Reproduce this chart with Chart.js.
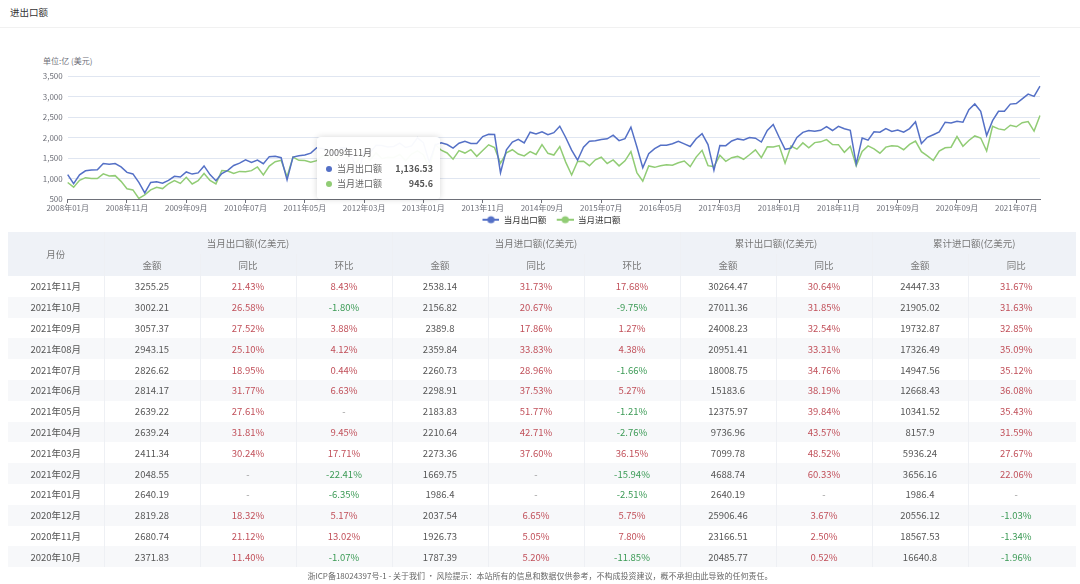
<!DOCTYPE html>
<html>
<head>
<meta charset="utf-8">
<script src="https://cdn.jsdelivr.net/npm/chart.js@4.4.0/dist/chart.umd.min.js"></script>
<style>
  html, body { margin: 0; padding: 0; background: #fff; }
  body {
    width: 1080px; height: 584px; position: relative; overflow: hidden;
    font-family: "Noto Sans CJK SC", "Noto Sans", sans-serif;
  }
  #title { position: absolute; left: 10px; top: 5px; font-size: 9.5px; color: #333; }
  #titleLine { position: absolute; left: 0; right: 0; top: 27px; height: 1px; background: #f1f1f1; }
  #yName { position: absolute; left: 43px; top: 55px; font-size: 8px; color: #6e7079; }
  #chartWrap { position: absolute; left: 0; top: 40px; width: 1080px; height: 194px; }
  #tip {
    position: absolute; left: 317px; top: 137px; width: 123px; height: 62px;
    background: rgba(255,255,255,0.96); border-radius: 4px;
    box-shadow: 0 0 6px rgba(0,0,0,0.16); box-sizing: border-box;
    padding: 9px 7px 0 7px; font-size: 9px; color: #666; display: none;
  }
  #tip .t { line-height: 14px; margin-bottom: 1px; }
  #tip .r { display: flex; align-items: center; line-height: 15px; }
  #tip .dot { width: 6px; height: 6px; border-radius: 50%; margin: 0 5px 0 2px; }
  #tip .v { margin-left: auto; font-weight: bold; color: #555; }

  table {
    position: absolute; left: 8px; top: 232px; width: 1068px;
    border-collapse: collapse; table-layout: fixed; font-size: 9.5px; color: #555;
  }
  th, td { text-align: center; padding: 0; border-right: 1px solid #eef0f4; }
  th:last-child, td:last-child { border-right: none; }
  thead th { background: #eff2f7; font-weight: normal; color: #777; height: 22px; }
  tbody td { height: 20.8px; }
  tbody tr:nth-child(even) td { background: #f7f8fa; }
  .up { color: #c1505a; }
  .down { color: #3b9a55; }
  .na { color: #999; }
  #footer {
    position: absolute; left: 0; width: 1080px; top: 570px; text-align: center;
    font-size: 8px; color: #666;
  }
</style>
</head>
<body>
<div id="title">进出口额</div>
<div id="titleLine"></div>
<div id="yName">单位:亿 (美元)</div>
<div id="chartWrap"><canvas id="chartTrade"></canvas></div>
<div id="tip"></div>
<table id="tbl"></table>
<div id="footer">浙ICP备18024397号-1 - 关于我们 · 风险提示：本站所有的信息和数据仅供参考，不构成投资建议，概不承担由此导致的任何责任。</div>

<script>
/* ── chart data ─────────────────────────────────────────────── */

const firstYear = 2008;
const lastYear  = 2021;
const lastMonth = 11;
const missingMonths = ['2020年01月', '2020年02月'];   // published combined, not in series

const seriesNames  = ['当月出口额', '当月进口额'];
const seriesColors = ['#5470c6', '#91cc75'];

// 当月出口额 (亿美元), one line per year
const exportValues = [
  1096.4, 873.7, 1089.6, 1187.1, 1204.9, 1211.0, 1366.7, 1348.8, 1364.3, 1283.3, 1149.9, 1111.6,
  904.5, 648.9, 902.9, 919.4, 887.6, 954.1, 1054.2, 1037.0, 1159.9, 1107.6, 1136.53, 1307.2,
  1094.7, 945.2, 1121.1, 1199.2, 1318.1, 1374.0, 1454.8, 1392.8, 1449.9, 1359.8, 1533.4, 1541.5,
  1507.3, 967.2, 1522.0, 1557.0, 1571.6, 1619.8, 1751.3, 1733.2, 1696.7, 1574.9, 1744.7, 1747.2,
  1499.4, 1144.7, 1656.6, 1633.0, 1812.1, 1802.0, 1769.4, 1780.0, 1863.5, 1755.6, 1793.8, 1991.4,
  1873.7, 1393.6, 1821.9, 1870.6, 1827.7, 1743.2, 1859.9, 1906.1, 1856.4, 1853.4, 2022.1, 2077.4,
  2071.3, 1140.9, 1701.1, 1887.0, 1954.7, 1867.9, 2129.8, 2084.6, 2136.9, 2068.7, 2116.6, 2275.0,
  2000.0, 1691.9, 1446.0, 1763.0, 1907.5, 1922.2, 1950.0, 1968.9, 2056.1, 1924.1, 1971.6, 2252.3,
  1774.8, 1260.5, 1605.0, 1728.5, 1811.0, 1813.9, 1847.3, 1906.0, 1845.1, 1780.0, 1968.4, 2094.2,
  1827.6, 1200.0, 1804.0, 1800.6, 1915.8, 1965.9, 1937.7, 1999.3, 1982.6, 1889.4, 2174.0, 2318.6,
  2004.9, 1712.0, 1741.0, 2003.0, 2126.0, 2168.0, 2155.0, 2175.0, 2266.0, 2171.0, 2273.0, 2212.0,
  2175.7, 1352.1, 1986.7, 1934.9, 2138.0, 2128.0, 2215.0, 2148.0, 2182.0, 2129.0, 2217.0, 2384.0,
  1852.0, 2004.0, 2068.0, 2135.0, 2373.0, 2353.0, 2394.0, 2371.83, 2680.74, 2819.28,
  2640.19, 2048.55, 2411.34, 2639.24, 2639.22, 2814.17, 2826.62, 2943.15, 3057.37, 3002.21, 3255.25,
];

// 当月进口额 (亿美元)
const importValues = [
  901.8, 788.7, 955.7, 1020.2, 1002.2, 997.5, 1114.7, 1060.0, 1070.0, 930.0, 749.9, 721.8,
  513.4, 600.5, 721.2, 786.3, 754.0, 871.3, 948.2, 880.3, 1030.6, 867.3, 945.6, 1123.4,
  953.9, 869.8, 1193.8, 1182.5, 1122.4, 1173.4, 1167.0, 1192.3, 1281.2, 1088.7, 1303.8, 1410.7,
  1442.7, 1040.5, 1521.0, 1443.0, 1440.5, 1397.0, 1436.6, 1553.0, 1551.7, 1404.4, 1599.7, 1582.0,
  1227.0, 1458.0, 1603.3, 1448.0, 1625.0, 1485.0, 1517.0, 1513.0, 1586.0, 1435.0, 1597.0, 1675.7,
  1582.0, 1240.5, 1830.8, 1689.3, 1623.2, 1471.9, 1681.2, 1620.4, 1704.3, 1541.4, 1683.9, 1821.4,
  1753.4, 1370.0, 1624.0, 1702.0, 1595.3, 1551.8, 1656.4, 1586.3, 1827.8, 1614.0, 1571.9, 1778.8,
  1400.0, 1085.6, 1416.0, 1421.0, 1313.2, 1457.1, 1519.0, 1365.9, 1453.0, 1307.5, 1430.7, 1657.0,
  1145.0, 934.0, 1307.0, 1272.0, 1313.0, 1333.0, 1324.0, 1383.0, 1425.0, 1290.0, 1522.0, 1687.0,
  1314.0, 1291.0, 1565.0, 1418.0, 1507.0, 1539.0, 1469.0, 1580.0, 1698.0, 1509.0, 1772.0, 1771.0,
  1803.0, 1375.0, 1791.0, 1715.0, 1869.0, 1751.0, 1875.0, 1894.0, 1950.0, 1830.0, 1826.0, 1640.0,
  1784.0, 1311.0, 1661.0, 1796.0, 1722.0, 1618.0, 1765.0, 1800.0, 1788.0, 1701.0, 1830.0, 1912.0,
  1653.0, 1550.0, 1439.0, 1671.0, 1750.0, 1764.0, 2024.0, 1787.39, 1926.73, 2037.54,
  1986.4, 1669.75, 2273.36, 2210.64, 2183.83, 2298.91, 2260.73, 2359.84, 2389.8, 2156.82, 2538.14,
];

const yTicks = [500, 1000, 1500, 2000, 2500, 3000, 3500];
const labelEvery = 10;
const tooltipMonth = '2009年11月';

/* ── table data ─────────────────────────────────────────────── */

const tableMonths = ['2021年11月', '2021年10月', '2021年09月', '2021年08月', '2021年07月', '2021年06月', '2021年05月',
  '2021年04月', '2021年03月', '2021年02月', '2021年01月', '2020年12月', '2020年11月', '2020年10月'];
const expAmount = ['3255.25', '3002.21', '3057.37', '2943.15', '2826.62', '2814.17', '2639.22',
  '2639.24', '2411.34', '2048.55', '2640.19', '2819.28', '2680.74', '2371.83'];
const expYoy = ['21.43%', '26.58%', '27.52%', '25.10%', '18.95%', '31.77%', '27.61%',
  '31.81%', '30.24%', '-', '-', '18.32%', '21.12%', '11.40%'];
const expMom = ['8.43%', '-1.80%', '3.88%', '4.12%', '0.44%', '6.63%', '-',
  '9.45%', '17.71%', '-22.41%', '-6.35%', '5.17%', '13.02%', '-1.07%'];
const impAmount = ['2538.14', '2156.82', '2389.8', '2359.84', '2260.73', '2298.91', '2183.83',
  '2210.64', '2273.36', '1669.75', '1986.4', '2037.54', '1926.73', '1787.39'];
const impYoy = ['31.73%', '20.67%', '17.86%', '33.83%', '28.96%', '37.53%', '51.77%',
  '42.71%', '37.60%', '-', '-', '6.65%', '5.05%', '5.20%'];
const impMom = ['17.68%', '-9.75%', '1.27%', '4.38%', '-1.66%', '5.27%', '-1.21%',
  '-2.76%', '36.15%', '-15.94%', '-2.51%', '5.75%', '7.80%', '-11.85%'];
const cumExpAmount = ['30264.47', '27011.36', '24008.23', '20951.41', '18008.75', '15183.6', '12375.97',
  '9736.96', '7099.78', '4688.74', '2640.19', '25906.46', '23166.51', '20485.77'];
const cumExpYoy = ['30.64%', '31.85%', '32.54%', '33.31%', '34.76%', '38.19%', '39.84%',
  '43.57%', '48.52%', '60.33%', '-', '3.67%', '2.50%', '0.52%'];
const cumImpAmount = ['24447.33', '21905.02', '19732.87', '17326.49', '14947.56', '12668.43', '10341.52',
  '8157.9', '5936.24', '3656.16', '1986.4', '20556.12', '18567.53', '16640.8'];
const cumImpYoy = ['31.67%', '31.63%', '32.85%', '35.09%', '35.12%', '36.08%', '35.43%',
  '31.59%', '27.67%', '22.06%', '-', '-1.03%', '-1.34%', '-1.96%'];

/* ── month categories ───────────────────────────────────────── */

const monthLabels = [];
for (let y = firstYear; y <= lastYear; y++) {
  for (let m = 1; m <= 12; m++) {
    if (y === lastYear && m > lastMonth) break;
    const lbl = y + '年' + String(m).padStart(2, '0') + '月';
    if (!missingMonths.includes(lbl)) monthLabels.push(lbl);
  }
}

/* ── legend icons (line + dot, echarts style) ───────────────── */
// 7px of transparent space on the left doubles as the gap between legend items

const ICON_W = 24;
function legendIcon(color) {
  const c = document.createElement('canvas');
  c.width = ICON_W; c.height = 10;
  const g = c.getContext('2d');
  g.strokeStyle = color; g.lineWidth = 2;
  g.beginPath(); g.moveTo(7, 5); g.lineTo(24, 5); g.stroke();
  g.fillStyle = color;
  g.beginPath(); g.arc(15.5, 5, 3.6, 0, Math.PI * 2); g.fill();
  return c;
}
const icons = seriesColors.map(legendIcon);

/* ── tooltip (html, fed by chart.js) ────────────────────────── */

const fmtNum = v => v.toLocaleString('en-US', { maximumFractionDigits: 2 });

function externalTip({ tooltip }) {
  const el = document.getElementById('tip');
  if (tooltip.opacity === 0) { el.style.display = 'none'; return; }
  let html = '<div class="t">' + tooltip.title[0] + '</div>';
  tooltip.dataPoints.forEach(dp => {
    html += '<div class="r"><span class="dot" style="background:' + dp.dataset.borderColor + '"></span>'
          + '<span>' + dp.dataset.label + '</span><span class="v">' + fmtNum(dp.raw) + '</span></div>';
  });
  el.innerHTML = html;
  el.style.display = 'block';
}

/* ── chart ──────────────────────────────────────────────────── */

const AXIS_GRAY = '#6e7079';
const FONT = '"Noto Sans CJK SC", "Noto Sans", sans-serif';

const chart = new Chart(document.getElementById('chartTrade'), {
  type: 'line',
  data: {
    labels: monthLabels,
    datasets: [exportValues, importValues].map((vals, i) => ({
      label:           seriesNames[i],
      data:            vals,
      borderColor:     seriesColors[i],
      backgroundColor: seriesColors[i],
      borderWidth:     1.5,
      pointRadius:     0,
      pointHoverRadius: 0,
      tension:         0,
      fill:            false,
    })),
  },
  options: {
    responsive: true,
    maintainAspectRatio: false,
    animation: false,
    events: [],
    layout: { padding: { top: 36, right: 0, left: 16, bottom: 0 } },
    interaction: { mode: 'index', intersect: false },
    plugins: {
      legend: {
        position: 'bottom',
        labels: {
          color: '#333',
          font: { family: FONT, size: 8.5 },
          usePointStyle: true,
          pointStyleWidth: ICON_W,
          boxHeight: 8,
          padding: 3.5,
          generateLabels: ch => Chart.defaults.plugins.legend.labels.generateLabels(ch)
            .map((it, i) => ({ ...it, pointStyle: icons[i] })),
        },
      },
      tooltip: { enabled: false, external: externalTip },
    },
    scales: {
      x: {
        offset: false,
        afterFit: s => { s.height = 13; },
        border: { color: AXIS_GRAY },
        grid: { drawOnChartArea: false, drawTicks: true, tickLength: 4, color: AXIS_GRAY },
        ticks: {
          autoSkip: false, maxRotation: 0, padding: 0,
          color: AXIS_GRAY, font: { family: FONT, size: 8 },
          callback(v, i) { return i % labelEvery === 0 ? this.getLabelForValue(v) : null; },
        },
      },
      y: {
        min: yTicks[0],
        max: yTicks[yTicks.length - 1],
        afterFit: s => { s.width = 51.7; },
        afterBuildTicks: s => { s.ticks = yTicks.map(v => ({ value: v })); },
        border: { display: false },
        grid: { color: '#e0e6f1', drawTicks: false },
        ticks: {
          padding: 5,
          color: AXIS_GRAY, font: { family: FONT, size: 8 },
          callback: v => v.toLocaleString('en-US'),
        },
      },
      // empty right gutter so the plot stops at the last month
      gutter: {
        type: 'linear', position: 'right', display: true,
        afterFit: s => { s.width = 40; },
        border: { display: false },
        grid: { display: false },
        ticks: { display: false },
      },
    },
  },
});

const tipIdx = monthLabels.indexOf(tooltipMonth);
chart.tooltip.setActiveElements(
  [{ datasetIndex: 0, index: tipIdx }, { datasetIndex: 1, index: tipIdx }],
  { x: 317, y: 100 }
);
chart.update('none');

/* ── table ──────────────────────────────────────────────────── */

function pctCell(s) {
  if (s === '-') return '<td class="na">-</td>';
  return '<td class="' + (s.startsWith('-') ? 'down' : 'up') + '">' + s + '</td>';
}

const cols = [expAmount, expYoy, expMom, impAmount, impYoy, impMom, cumExpAmount, cumExpYoy, cumImpAmount, cumImpYoy];
const pctCols = [1, 2, 4, 5, 7, 9];

let html = '<colgroup>' + '<col style="width:96px">'.repeat(10) + '<col style="width:108px"></colgroup>';
html += '<thead><tr><th rowspan="2">月份</th>'
  + '<th colspan="3">当月出口额(亿美元)</th><th colspan="3">当月进口额(亿美元)</th>'
  + '<th colspan="2">累计出口额(亿美元)</th><th colspan="2">累计进口额(亿美元)</th></tr>'
  + '<tr><th>金额</th><th>同比</th><th>环比</th><th>金额</th><th>同比</th><th>环比</th>'
  + '<th>金额</th><th>同比</th><th>金额</th><th style="padding-right:12px">同比</th></tr></thead><tbody>';
tableMonths.forEach((m, r) => {
  html += '<tr><td>' + m + '</td>';
  cols.forEach((col, c) => {
    let cell = pctCols.includes(c) ? pctCell(col[r]) : '<td>' + col[r] + '</td>';
    if (c === cols.length - 1) cell = cell.replace('<td', '<td style="padding-right:12px"');
    html += cell;
  });
  html += '</tr>';
});
html += '</tbody>';
document.getElementById('tbl').innerHTML = html;
</script>
</body>
</html>
